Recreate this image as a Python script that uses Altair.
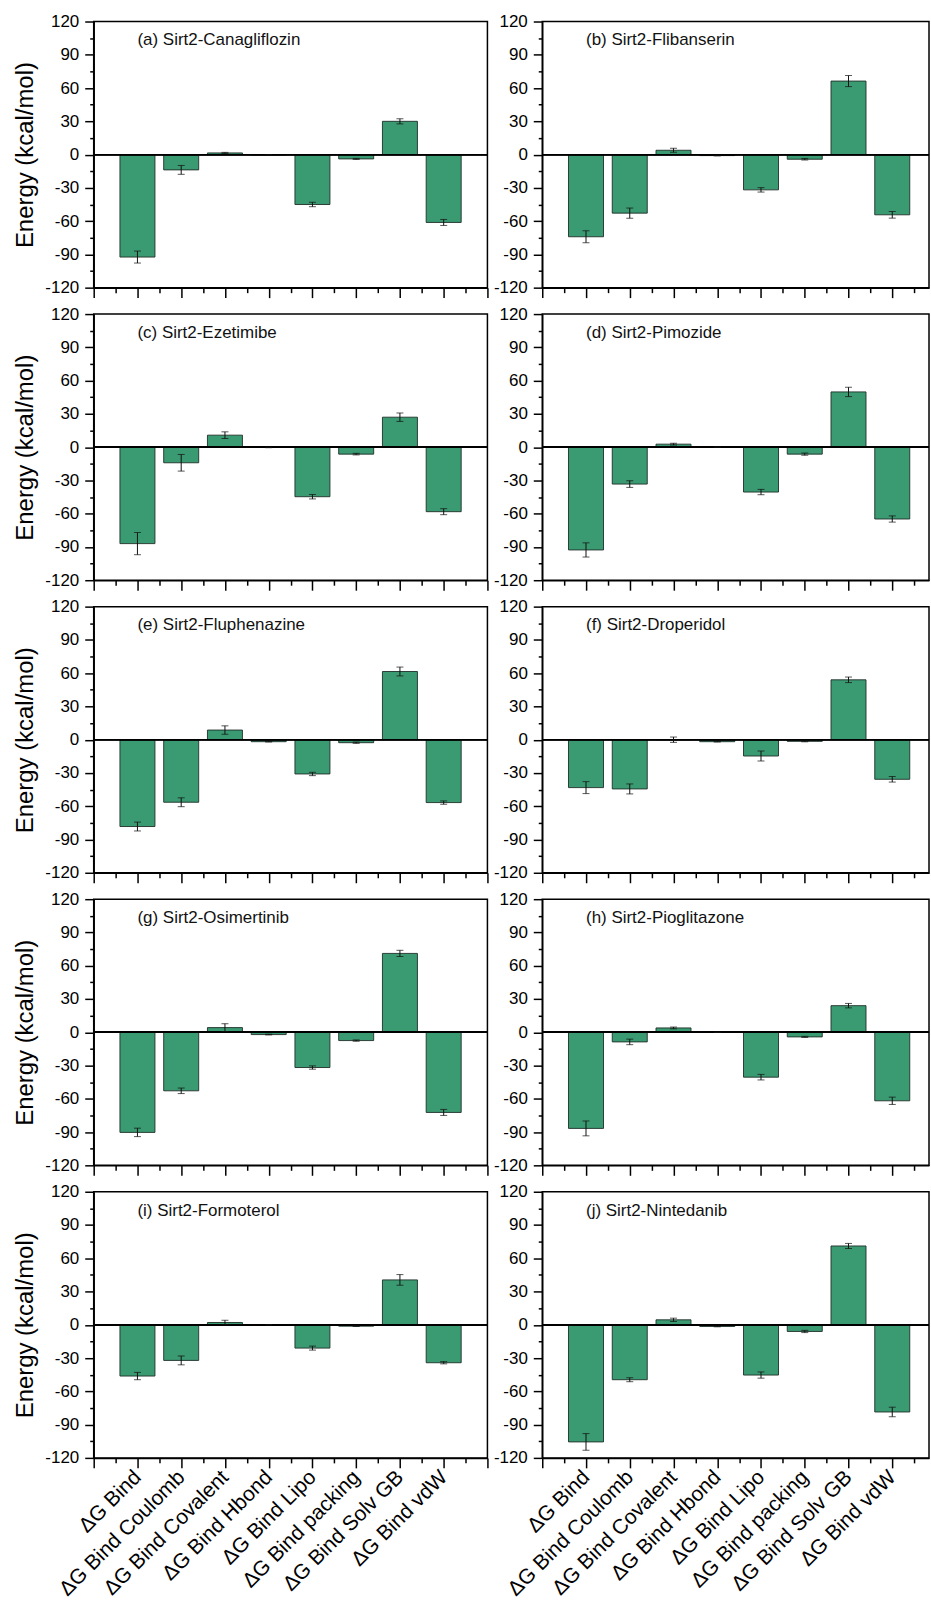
import json
import altair as alt
import pandas as pd

# Energy components (kcal/mol) for each Sirt2-ligand complex
terms = [
    "ΔG Bind", "ΔG Bind Coulomb", "ΔG Bind Covalent", "ΔG Bind Hbond",
    "ΔG Bind Lipo", "ΔG Bind packing", "ΔG Bind Solv GB", "ΔG Bind vdW",
]

titles = [
    "(a) Sirt2-Canagliflozin", "(b) Sirt2-Flibanserin",
    "(c) Sirt2-Ezetimibe", "(d) Sirt2-Pimozide",
    "(e) Sirt2-Fluphenazine", "(f) Sirt2-Droperidol",
    "(g) Sirt2-Osimertinib", "(h) Sirt2-Pioglitazone",
    "(i) Sirt2-Formoterol", "(j) Sirt2-Nintedanib",
]

canagliflozin = [-92.4, -13.8, 1.5, -0.3, -45.0, -3.9, 30.0, -61.2]
canagliflozin_err = [5.4, 4.0, 0.5, 0.2, 2.0, 0.5, 2.3, 2.7]
flibanserin = [-74.1, -52.8, 3.9, -0.9, -31.8, -4.2, 66.3, -54.3]
flibanserin_err = [5.4, 4.6, 1.8, 0.3, 2.0, 0.7, 5.0, 3.0]
ezetimibe = [-87.0, -14.1, 10.8, -0.3, -44.7, -6.3, 27.0, -58.2]
ezetimibe_err = [10.0, 7.5, 3.0, 0.2, 2.0, 0.7, 3.8, 2.7]
pimozide = [-92.7, -33.3, 2.7, 0.0, -40.5, -6.3, 49.8, -64.8]
pimozide_err = [6.4, 3.0, 0.8, 0.0, 2.4, 1.0, 4.2, 2.8]
fluphenazine = [-78.3, -56.4, 8.7, -1.8, -30.9, -2.7, 61.5, -56.7]
fluphenazine_err = [4.0, 4.0, 3.8, 0.3, 1.5, 0.6, 4.0, 1.5]
droperidol = [-43.2, -44.4, 0.0, -1.8, -14.7, -1.5, 54.0, -35.7]
droperidol_err = [5.4, 4.5, 2.4, 0.3, 4.5, 0.4, 2.5, 2.5]
osimertinib = [-90.3, -52.8, 4.2, -2.1, -31.8, -7.5, 71.1, -72.3]
osimertinib_err = [3.8, 2.5, 3.5, 0.3, 1.5, 0.6, 2.8, 2.7]
pioglitazone = [-86.7, -8.7, 3.9, 0.0, -40.5, -4.2, 24.0, -61.8]
pioglitazone_err = [6.7, 2.5, 0.8, 0.0, 2.5, 0.5, 2.0, 3.3]
formoterol = [-46.2, -32.1, 2.1, 0.0, -21.0, -1.2, 40.5, -34.2]
formoterol_err = [3.3, 4.0, 2.0, 0.0, 1.8, 0.3, 4.8, 1.0]
nintedanib = [-105.6, -49.5, 4.5, -1.5, -45.3, -6.0, 71.1, -78.6]
nintedanib_err = [7.5, 1.8, 1.5, 0.3, 2.8, 1.0, 2.3, 4.3]

series = [
    (canagliflozin, canagliflozin_err), (flibanserin, flibanserin_err),
    (ezetimibe, ezetimibe_err), (pimozide, pimozide_err),
    (fluphenazine, fluphenazine_err), (droperidol, droperidol_err),
    (osimertinib, osimertinib_err), (pioglitazone, pioglitazone_err),
    (formoterol, formoterol_err), (nintedanib, nintedanib_err),
]

BAR_FILL = "#3a9a72"
FONT = "Liberation Sans"
PANEL_H = 267

term_list = json.dumps(terms, ensure_ascii=False)
x_label_expr = (
    "datum.value % 1 === 0 && datum.value >= 1 && datum.value <= 8 ? "
    + term_list + "[datum.value - 1] : ''"
)


def panel(values, errs, title, left, bottom):
    df = pd.DataFrame({
        "pos": list(range(1, len(terms) + 1)),
        "term": terms,
        "energy": values,
        "err": errs,
    })
    xmax = 9 if left else 8.84
    width = 395 if left else 388
    xscale = alt.Scale(domain=[0, xmax], nice=False, zero=False)
    yscale = alt.Scale(domain=[-120, 120], nice=False)

    xaxis = alt.Axis(
        values=[i * 0.5 for i in range(0, 19)],
        tickSize={"condition": {"test": "datum.value % 1 === 0", "value": 10}, "value": 5},
        tickWidth=1.5, tickColor="black", domainColor="black", domainWidth=1.5,
        labels=bottom, labelExpr=x_label_expr, labelAngle=-45,
        labelAlign="right", labelBaseline="middle",
        labelFontSize=21, labelColor="black", labelPadding=6,
        labelOverlap=False, labelFlush=False, labelBound=False,
        grid=False, title=None,
    )
    yaxis_kw = dict(
        values=list(range(-120, 121, 15)),
        tickSize={"condition": {"test": "datum.value % 30 === 0", "value": 9}, "value": 4},
        tickWidth=1.5, tickColor="black", domainColor="black", domainWidth=1.5,
        labelExpr="datum.value % 30 === 0 ? '' + datum.value : ''",
        labelFontSize=17, labelColor="black", labelPadding=6,
        labelOverlap=False, labelFlush=False, grid=False,
    )
    if left:
        yaxis = alt.Axis(
            title="Energy (kcal/mol)", titleFontSize=24, titleFontWeight="normal",
            titleColor="black", titleX=-68, titleY=PANEL_H / 2,
            titleAlign="center", titleBaseline="middle", titleAngle=-90,
            **yaxis_kw,
        )
    else:
        yaxis = alt.Axis(title=None, **yaxis_kw)

    # every layer carries the same axis definition so the merged axes agree
    def X(field):
        return alt.X(field, scale=xscale, axis=xaxis)

    def Y(field):
        return alt.Y(field, scale=yscale, axis=yaxis)

    base = alt.Chart(df)
    bars = base.transform_calculate(
        x0="datum.pos - 0.4", x1="datum.pos + 0.4"
    ).mark_bar(fill=BAR_FILL, stroke="#1f2f28", strokeWidth=0.9).encode(
        x=X("x0:Q"), x2="x1:Q", y=Y("energy:Q"), y2=alt.datum(0),
    )
    zero = base.mark_rule(color="black", strokeWidth=1.3).encode(
        y=alt.YDatum(0, scale=yscale, axis=yaxis)
    )
    err = base.transform_calculate(
        lo="datum.energy - datum.err", hi="datum.energy + datum.err"
    )
    whisker = err.mark_rule(color="#111", strokeWidth=1).encode(
        x=X("pos:Q"), y=Y("lo:Q"), y2="hi:Q",
    )
    cap_lo = err.mark_tick(color="#111", orient="horizontal", size=7, thickness=1).encode(
        x=X("pos:Q"), y=Y("lo:Q")
    )
    cap_hi = err.mark_tick(color="#111", orient="horizontal", size=7, thickness=1).encode(
        x=X("pos:Q"), y=Y("hi:Q")
    )
    label = alt.Chart(pd.DataFrame({"name": [title]})).mark_text(
        align="left", baseline="middle", fontSize=17, font=FONT, color="#111",
    ).encode(
        text="name:N",
        x=alt.XDatum(1, scale=xscale, axis=xaxis),
        y=alt.YDatum(103, scale=yscale, axis=yaxis),
    )

    return alt.layer(bars, zero, whisker, cap_lo, cap_hi, label).properties(
        width=width, height=PANEL_H
    )


panels = []
for i, (vals, errs) in enumerate(series):
    panels.append(panel(vals, errs, titles[i], i % 2 == 0, i >= 8))

chart = alt.concat(
    *panels, columns=2, spacing={"row": 26.5, "column": 55}, bounds="flush",
    padding={"left": 13, "top": 9, "right": 0, "bottom": 0},
).configure(font=FONT).configure_view(
    stroke="black", strokeWidth=1.5
).configure_axis(labelFont=FONT, titleFont=FONT)

chart.save("out.html", embed_options={"renderer": "svg", "actions": False})
